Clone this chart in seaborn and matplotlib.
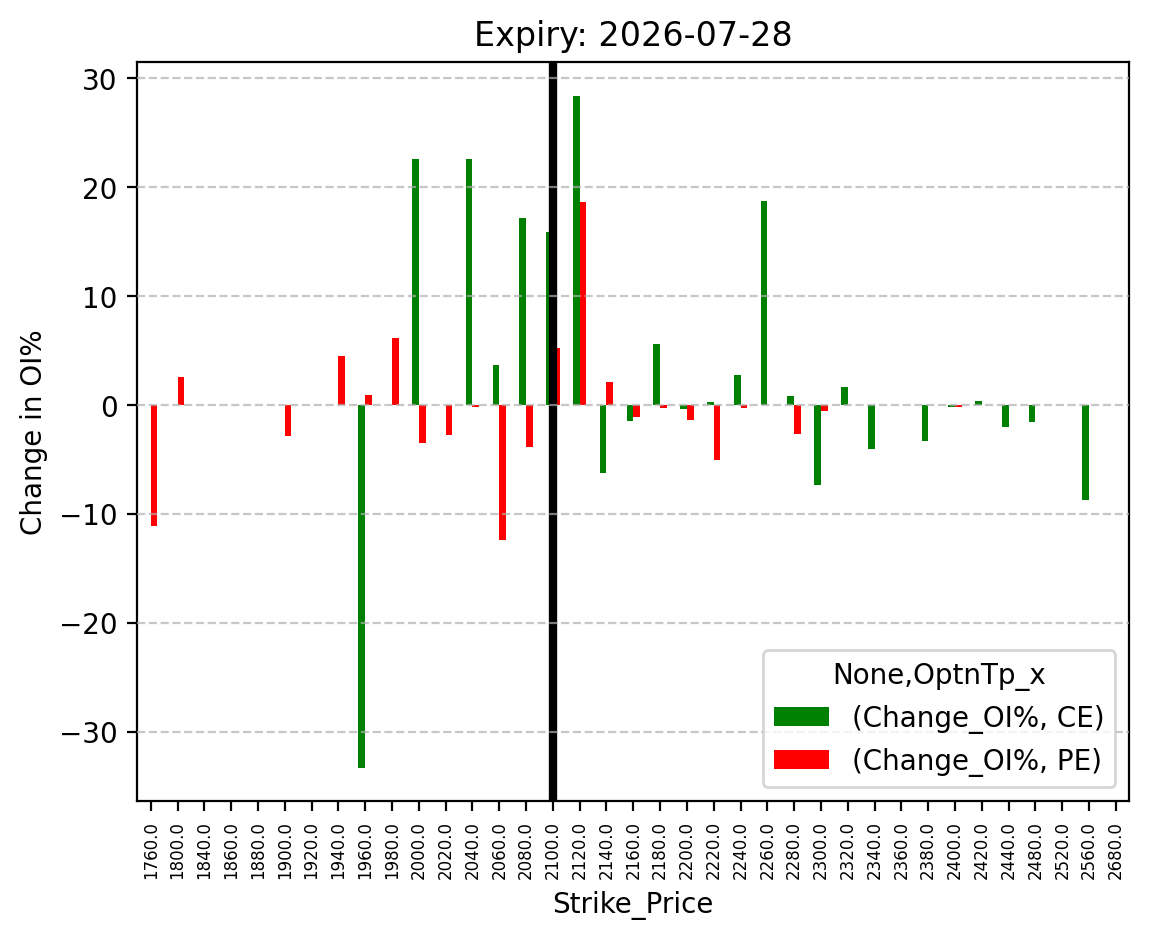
import numpy as np
import pandas as pd
import seaborn as sns
import matplotlib.pyplot as plt

nan = np.nan

# strike prices shown on the x axis
strikes = [1760, 1800, 1840, 1860, 1880, 1900, 1920, 1940, 1960, 1980,
           2000, 2020, 2040, 2060, 2080, 2100, 2120, 2140, 2160, 2180,
           2200, 2220, 2240, 2260, 2280, 2300, 2320, 2340, 2360, 2380,
           2400, 2420, 2440, 2480, 2520, 2560, 2680]

# change in OI% for calls (CE) and puts (PE)
ce_change = [nan, nan, nan, nan, nan, nan, nan, nan, -33.3, nan,
             22.55, nan, 22.55, 3.68, 17.2, 15.9, 28.4, -6.24, -1.47, 5.6,
             -0.37, 0.28, 2.76, 18.77, 0.83, -7.34, 1.66, -4.04, nan, -3.3,
             -0.18, 0.34, -2.02, -1.56, nan, -8.72, nan]
pe_change = [-11.1, 2.58, nan, nan, nan, -2.84, nan, 4.5, 0.92, 6.17,
             -3.49, -2.75, -0.18, -12.39, -3.85, 5.25, 18.6, 2.1, -1.1, -0.28,
             -1.38, -5.05, -0.28, nan, -2.66, -0.55, nan, nan, nan, nan,
             -0.18, nan, nan, nan, nan, nan, nan]

expiry = "2026-07-28"
spot_strike = 2100

labels = [f"{s:.1f}" for s in strikes]
ce_name = "(Change_OI%, CE)"
pe_name = "(Change_OI%, PE)"

df = pd.DataFrame({
    "Strike_Price": labels * 2,
    "Change_OI%": ce_change + pe_change,
    "Type": [ce_name] * len(labels) + [pe_name] * len(labels),
}).dropna()

fig, ax = plt.subplots(figsize=(6.4, 4.8))
sns.barplot(data=df, x="Strike_Price", y="Change_OI%", hue="Type",
            order=labels, hue_order=[ce_name, pe_name],
            palette={ce_name: "green", pe_name: "red"},
            width=0.5, saturation=1, errorbar=None, ax=ax)

ax.axvline(labels.index(f"{spot_strike:.1f}"), color="black", linewidth=3)
ax.grid(axis="y", linestyle="--", alpha=0.7)
ax.set_axisbelow(False)
ax.set_xlim(-0.5, len(labels) - 0.5)

ax.set_title(f"Expiry: {expiry}")
ax.set_xlabel("Strike_Price")
ax.set_ylabel("Change in OI%")
ax.tick_params(axis="x", labelrotation=90, labelsize=6)
ax.legend(title="None,OptnTp_x", loc="lower right")

plt.savefig("out.png", dpi=200, bbox_inches="tight")
